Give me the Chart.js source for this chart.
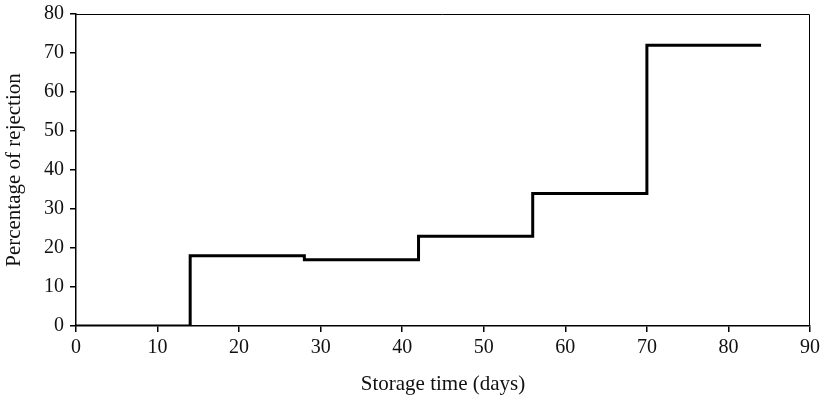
<!DOCTYPE html>
<html>
<head>
<meta charset="utf-8">
<script src="https://cdn.jsdelivr.net/npm/chart.js@4.4.1/dist/chart.umd.min.js"></script>
<style>
  html, body { margin: 0; padding: 0; background: #fff; }
  #wrap { width: 823px; height: 397px; }
</style>
</head>
<body>
<div id="wrap"><canvas id="myChart"></canvas></div>
<script>
// storage time (days) and rejection level
const days = [0, 14, 28, 42, 56, 70, 84];
const rejection = [0, 18, 17, 23, 34, 72, 72];
const xTicks = [0, 10, 20, 30, 40, 50, 60, 70, 80, 90];
const yTicks = [0, 10, 20, 30, 40, 50, 60, 70, 80];

const points = days.map((d, i) => ({ x: d, y: rejection[i] }));
const serif = "'Liberation Serif', 'DejaVu Serif', serif";
const tickFont = { family: serif, size: 20 };
const titleFont = { family: serif, size: 21 };

// thin frame on top and right of the plot area
const frame = {
  id: "frame",
  afterDraw(chart) {
    const a = chart.chartArea;
    const c = chart.ctx;
    c.save();
    c.strokeStyle = "#000";
    c.lineWidth = 1;
    c.beginPath();
    c.moveTo(a.left, a.top + 0.5);
    c.lineTo(a.right - 0.5, a.top + 0.5);
    c.lineTo(a.right - 0.5, a.bottom);
    c.stroke();
    c.restore();
  },
};

new Chart(document.getElementById("myChart").getContext("2d"), {
  type: "scatter",
  data: {
    datasets: [
      {
        label: "Rejection",
        data: points,
        showLine: true,
        stepped: true,
        borderColor: "#000",
        borderWidth: 3,
        pointRadius: 0,
        fill: false,
      },
    ],
  },
  options: {
    responsive: true,
    maintainAspectRatio: false,
    animation: false,
    layout: { padding: 0 },
    plugins: { legend: { display: false }, tooltip: { enabled: false } },
    scales: {
      x: {
        type: "linear",
        min: 0,
        max: 90,
        afterBuildTicks: (s) => { s.ticks = xTicks.map((v) => ({ value: v })); },
        afterFit: (s) => { s.height = 71; s.paddingRight = 13; s.paddingLeft = 0; },
        grid: { drawOnChartArea: false, drawTicks: true, tickLength: 6, color: "#000", lineWidth: 1.5 },
        border: { display: true, color: "#000", width: 1.5 },
        ticks: { color: "#111", font: tickFont, padding: 4, maxRotation: 0 },
        title: { display: true, text: "Storage time (days)", color: "#111", font: titleFont, padding: { top: 0, bottom: 0 } },
      },
      y: {
        type: "linear",
        min: 0,
        max: 80,
        afterBuildTicks: (s) => { s.ticks = yTicks.map((v) => ({ value: v })); },
        afterFit: (s) => { s.width = 76; s.paddingTop = 14; s.paddingBottom = 0; },
        grid: { drawOnChartArea: false, drawTicks: true, tickLength: 6, color: "#000", lineWidth: 1.5 },
        border: { display: true, color: "#000", width: 1.5 },
        ticks: { color: "#111", font: tickFont, padding: 6 },
        title: { display: true, text: "Percentage of rejection", color: "#111", font: titleFont, padding: { top: 2, bottom: 2 } },
      },
    },
  },
  plugins: [frame],
});
</script>
</body>
</html>
